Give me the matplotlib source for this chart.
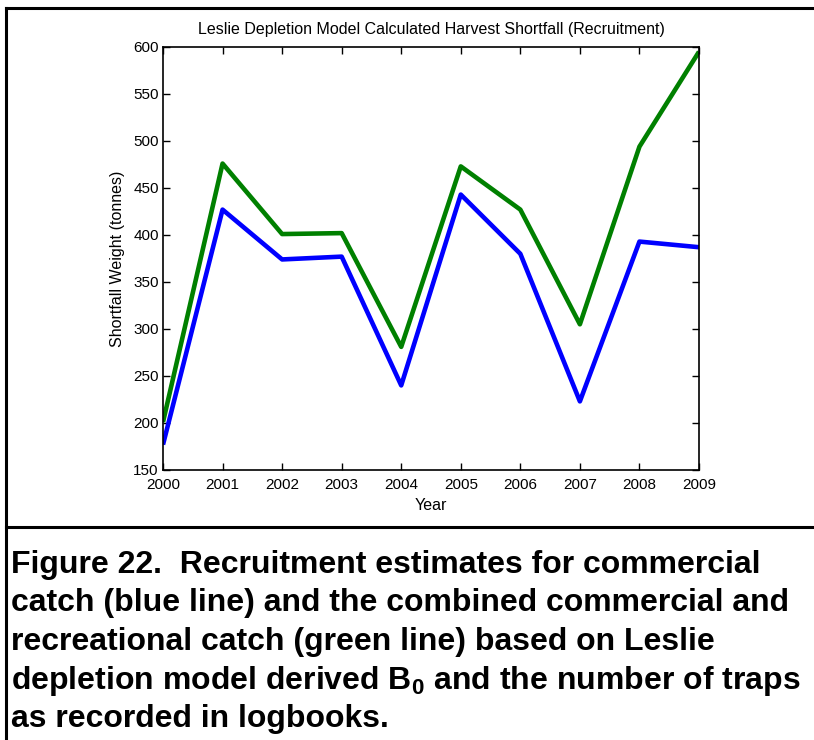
import matplotlib.pyplot as plt
from matplotlib.lines import Line2D

plt.rcParams['font.family'] = ['Liberation Sans', 'DejaVu Sans']
plt.rcParams['mathtext.fontset'] = 'custom'
plt.rcParams['mathtext.rm'] = 'Liberation Sans'
plt.rcParams['mathtext.bf'] = 'Liberation Sans:bold'

years = [2000, 2001, 2002, 2003, 2004, 2005, 2006, 2007, 2008, 2009]
commercial = [177, 427, 374, 377, 240, 443, 380, 223, 393, 387]
combined = [201, 476, 401, 402, 281, 473, 427, 305, 494, 595]
y_ticks = [150, 200, 250, 300, 350, 400, 450, 500, 550, 600]

title = "Leslie Depletion Model Calculated Harvest Shortfall (Recruitment)"
caption = ["Figure 22.  Recruitment estimates for commercial",
           "catch (blue line) and the combined commercial and",
           "recreational catch (green line) based on Leslie",
           r"depletion model derived $\mathbf{B_0}$ and the number of traps",
           "as recorded in logbooks."]

W, H = 814, 740
fig = plt.figure(figsize=(W / 100, H / 100), dpi=100)
ax = fig.add_axes([163 / W, 1 - 470 / H, (699 - 163) / W, (470 - 47) / H])

ax.plot(years, commercial, color='#0000ff', lw=3.3, solid_capstyle='butt')
ax.plot(years, combined, color='#008000', lw=3.3, solid_capstyle='butt')

ax.set_xlim(years[0], years[-1])
ax.set_ylim(y_ticks[0], y_ticks[-1])
ax.set_xticks(years)
ax.set_yticks(y_ticks)
ax.tick_params(direction='in', length=5, width=1, labelsize=11,
               top=True, right=True)
ax.tick_params(axis='x', pad=6)
ax.tick_params(axis='y', pad=3)
for s in ax.spines.values():
    s.set_linewidth(1.2)

ax.set_title(title, fontsize=11.5, pad=9)
ax.set_xlabel("Year", fontsize=11.5, labelpad=4)
ax.set_ylabel("Shortfall Weight (tonnes)", fontsize=11.5, labelpad=6)

# frame around the figure and the caption separator
lw = 2.2
fig.add_artist(Line2D([6 / W, 6 / W], [0, 1 - 8 / H], color='black', lw=lw,
                      transform=fig.transFigure))
fig.add_artist(Line2D([6 / W, 1], [1 - 8 / H, 1 - 8 / H], color='black', lw=lw,
                      transform=fig.transFigure))
fig.add_artist(Line2D([6 / W, 1], [1 - 527 / H, 1 - 527 / H], color='black', lw=lw,
                      transform=fig.transFigure))

for i, line in enumerate(caption):
    fig.text(11 / W, 1 - (565 + i * 38.5) / H, line, fontsize=23, fontweight='bold',
             va='center', ha='left')

fig.savefig("out.png", dpi=100)
